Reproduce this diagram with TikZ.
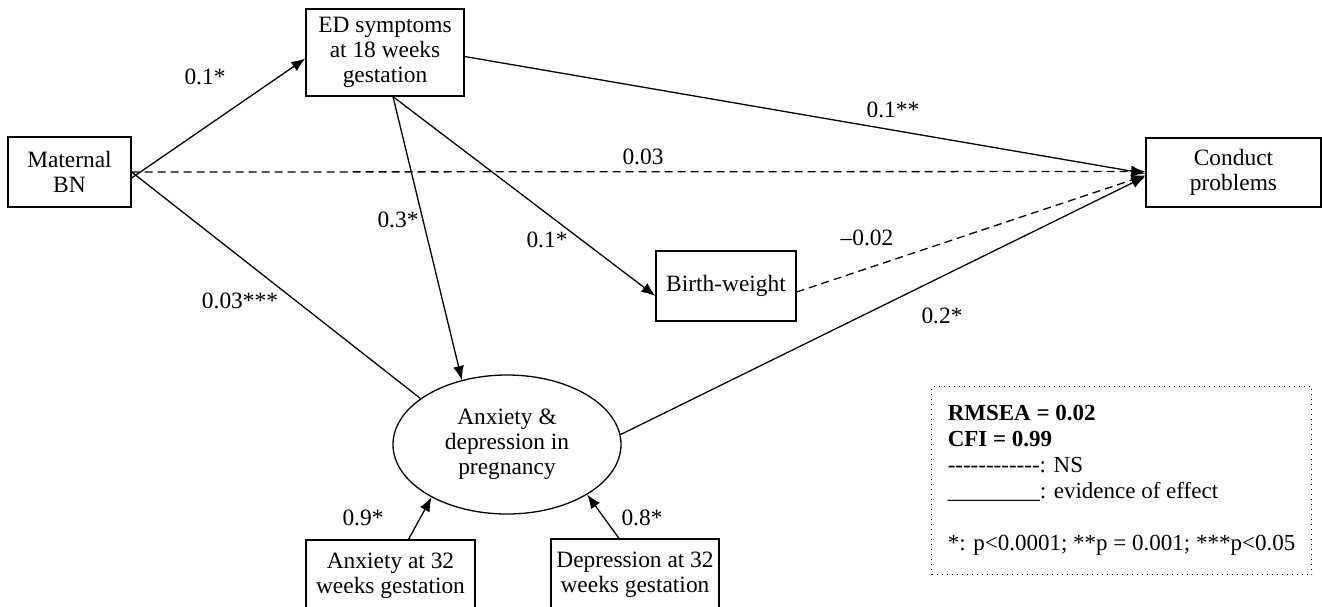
\documentclass[tikz,border=0pt]{standalone}
\usepackage{fontspec}
\setmainfont{Liberation Serif}
\usetikzlibrary{arrows.meta,shapes.geometric}

\tikzset{
  box/.style={draw, line width=0.65pt, align=center, inner sep=0pt},
  oval/.style={draw, ellipse, line width=0.65pt, align=center, inner sep=0pt},
  effect/.style={line width=0.65pt, -{Latex[length=7pt,width=5.5pt]}},
  nseffect/.style={effect, dash pattern=on 4pt off 2.5pt},
  coef/.style={inner sep=0pt},
  legendbox/.style={draw, line width=0.5pt, dotted, align=left, inner sep=0pt,
    font=\fontsize{11.5}{13}\selectfont}
}

\begin{document}
\begin{tikzpicture}[x=0.5pt, y=-0.5pt, font=\fontsize{11.7}{12.6}\selectfont]
    \useasboundingbox (0,0) rectangle (1322,606);

    \node[box, minimum width=61.5pt, minimum height=35pt] (mbn) at (69.5,172) {Maternal\\BN};
    \node[box, minimum width=79pt, minimum height=43.5pt] (ed) at (385,52.5) {ED symptoms\\at 18 weeks\\gestation};
    \node[box, minimum width=87.5pt, minimum height=34.5pt] (cp) at (1233.5,172.5) {Conduct\\problems};
    \node[box, minimum width=70pt, minimum height=35pt] (bw) at (726,286) {Birth-weight};
    \node[oval, minimum width=114pt, minimum height=69.5pt] (anx) at (507,444.5) {Anxiety \&\\depression in\\pregnancy};
    \node[box, minimum width=84.5pt, minimum height=36pt] (anx32) at (390.5,576) {Anxiety at 32\\weeks gestation};
    \node[box, minimum width=84pt, minimum height=36pt] (dep32) at (635,575) {Depression at 32\\weeks gestation};

    \draw[effect] ([yshift=-3pt]mbn.east) -- ([yshift=-3pt]ed.west);
    \draw[nseffect] (mbn.east) -- ([yshift=0.5pt]cp.west);
    \draw[line width=0.65pt] (mbn.east) -- (anx.152);
    \draw[effect] ([yshift=-2pt]ed.east) -- ([yshift=-0.5pt]cp.west);
    \draw[effect] ([xshift=4pt]ed.south) -- (anx.125);
    \draw[effect] ([xshift=4pt]ed.south) -- ([yshift=-5pt]bw.west);
    \draw[nseffect] ([yshift=-3pt]bw.east) -- ([yshift=-1.5pt]cp.west);
    \draw[effect] (anx.5) -- ([yshift=-2pt]cp.west);
    \draw[effect] ([xshift=9pt]anx32.north) -- (anx.215);
    \draw[effect] ([xshift=-8pt]dep32.north) -- (anx.328);

    \node[coef] (c1) at (205,77) {0.1*};
    \node[coef] (c2) at (643,157) {0.03};
    \node[coef] (c3) at (893,110) {0.1**};
    \node[coef] (c4) at (398,220) {0.3*};
    \node[coef] (c5) at (547,240) {0.1*};
    \node[coef] (c6) at (867,238) {--0.02};
    \node[coef] (c7) at (240,301) {0.03***};
    \node[coef] (c8) at (942,316) {0.2*};
    \node[coef] (c9) at (363,518) {0.9*};
    \node[coef] (c10) at (642,518) {0.8*};

    \node[legendbox, anchor=north west, minimum width=190pt, minimum height=94pt] (legend) at (931,386)
      {\textbf{RMSEA = 0.02}\\\textbf{CFI = 0.99}\\-{}-{}-{}-{}-{}-{}-{}-{}-{}-{}-{}-: NS\\\_\_\_\_\_\_\_\_: evidence of effect\\[13pt]*: p<0.0001; **p = 0.001; ***p<0.05};
\end{tikzpicture}
\end{document}
